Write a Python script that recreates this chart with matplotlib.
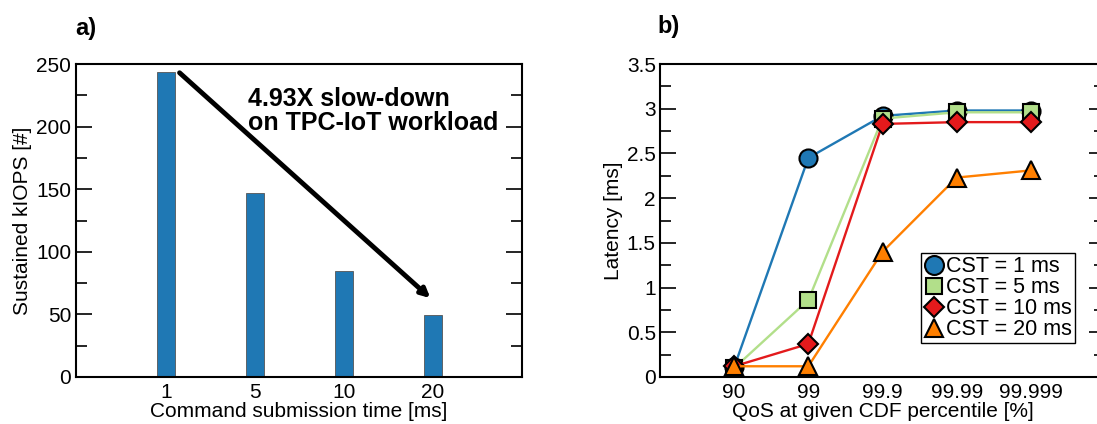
import matplotlib
matplotlib.use("Agg")
import matplotlib.pyplot as plt
from matplotlib.ticker import MultipleLocator

plt.rcParams["font.family"] = ["Liberation Sans", "DejaVu Sans"]

# a) sustained throughput per command submission time
cst_labels = ["1", "5", "10", "20"]
kiops = [244, 147, 85, 49.5]

# b) latency at CDF percentiles for each CST setting
qos_labels = ["90", "99", "99.9", "99.99", "99.999"]
lat_cst1 = [0.11, 2.45, 2.92, 2.98, 2.98]
lat_cst5 = [0.10, 0.86, 2.89, 2.96, 2.96]
lat_cst10 = [0.12, 0.37, 2.83, 2.85, 2.85]
lat_cst20 = [0.12, 0.12, 1.40, 2.23, 2.31]

series = [
    ("CST = 1 ms", lat_cst1, "#1f78b4", "o", 13),
    ("CST = 5 ms", lat_cst5, "#b2df8a", "s", 11.5),
    ("CST = 10 ms", lat_cst10, "#e31a1c", "D", 10),
    ("CST = 20 ms", lat_cst20, "#ff7f00", "^", 13),
]

W, H = 1097, 424
fig = plt.figure(figsize=(W / 100, H / 100), dpi=100)


def style_axes(ax):
    for s in ax.spines.values():
        s.set_linewidth(1.5)
    ax.tick_params(axis="y", which="both", direction="in", left=True, right=True,
                   width=1.2, labelsize=15, pad=3)
    ax.tick_params(axis="y", which="major", length=11.5)
    ax.tick_params(axis="y", which="minor", length=8)
    ax.tick_params(axis="x", which="both", length=0, labelsize=15, pad=4)


# ---- panel a ----
ax1 = fig.add_axes([75.5 / W, 47 / H, 446.5 / W, 313 / H])
x = range(len(cst_labels))
ax1.bar(x, kiops, width=0.2, color="#1f78b4", edgecolor="#555555", linewidth=0.6)
ax1.set_xlim(-1.02, 4.0)
ax1.set_ylim(0, 250)
ax1.set_xticks(list(x))
ax1.set_xticklabels(cst_labels)
ax1.yaxis.set_major_locator(MultipleLocator(50))
ax1.yaxis.set_minor_locator(MultipleLocator(25))
style_axes(ax1)
ax1.set_xlabel("Command submission time [ms]", fontsize=15, labelpad=0)
ax1.set_ylabel("Sustained kIOPS [#]", fontsize=15, labelpad=3)

ax1.annotate("", xy=(2.97, 63), xytext=(0.15, 243),
             arrowprops=dict(arrowstyle="-|>", lw=3.5, color="black",
                             mutation_scale=13, shrinkA=0, shrinkB=0))
ax1.text(0.92, 232, "4.93X slow-down\non TPC-IoT workload", fontsize=18,
         fontweight="bold", va="top", ha="left", linespacing=1.05)
fig.text(75 / W, 1 - 28 / H, "a)", fontsize=17, fontweight="bold", va="center")

# ---- panel b ----
# right frame edge sits just past the figure border, so it is clipped off
ax2 = fig.add_axes([660 / W, 47 / H, 445 / W, 313 / H])
xq = range(len(qos_labels))
for label, vals, color, marker, ms in series:
    ax2.plot(list(xq), vals, color=color, lw=1.7, marker=marker, markersize=ms,
             markerfacecolor=color, markeredgecolor="black", markeredgewidth=1.5,
             label=label)
ax2.set_xlim(-1, 5)
ax2.set_ylim(0, 3.5)
ax2.set_xticks(list(xq))
ax2.set_xticklabels(qos_labels)
ax2.yaxis.set_major_locator(MultipleLocator(0.5))
ax2.yaxis.set_minor_locator(MultipleLocator(0.25))
ax2.yaxis.set_major_formatter(plt.FuncFormatter(lambda v, p: f"{v:g}"))
style_axes(ax2)
ax2.set_xlabel("QoS at given CDF percentile [%]", fontsize=15, labelpad=0)
ax2.set_ylabel("Latency [ms]", fontsize=15, labelpad=3)

handles = [plt.Line2D([0], [0], ls="none", marker=m, markersize=ms * 1.05,
                      markerfacecolor=c, markeredgecolor="black", markeredgewidth=1.5)
           for _, _, c, m, ms in series]
leg = ax2.legend(handles, [s[0] for s in series], loc="upper left",
                 bbox_to_anchor=((921 - 660) / 445, (377 - 253) / 313),
                 fontsize=15.5, frameon=True, fancybox=False, framealpha=1,
                 edgecolor="black", borderpad=0.15, labelspacing=0.0,
                 handlelength=0.9, handletextpad=0.1, borderaxespad=0)
leg.get_frame().set_linewidth(1.0)
fig.text(657 / W, 1 - 26 / H, "b)", fontsize=17, fontweight="bold", va="center")

fig.savefig("out.png", dpi=100)
